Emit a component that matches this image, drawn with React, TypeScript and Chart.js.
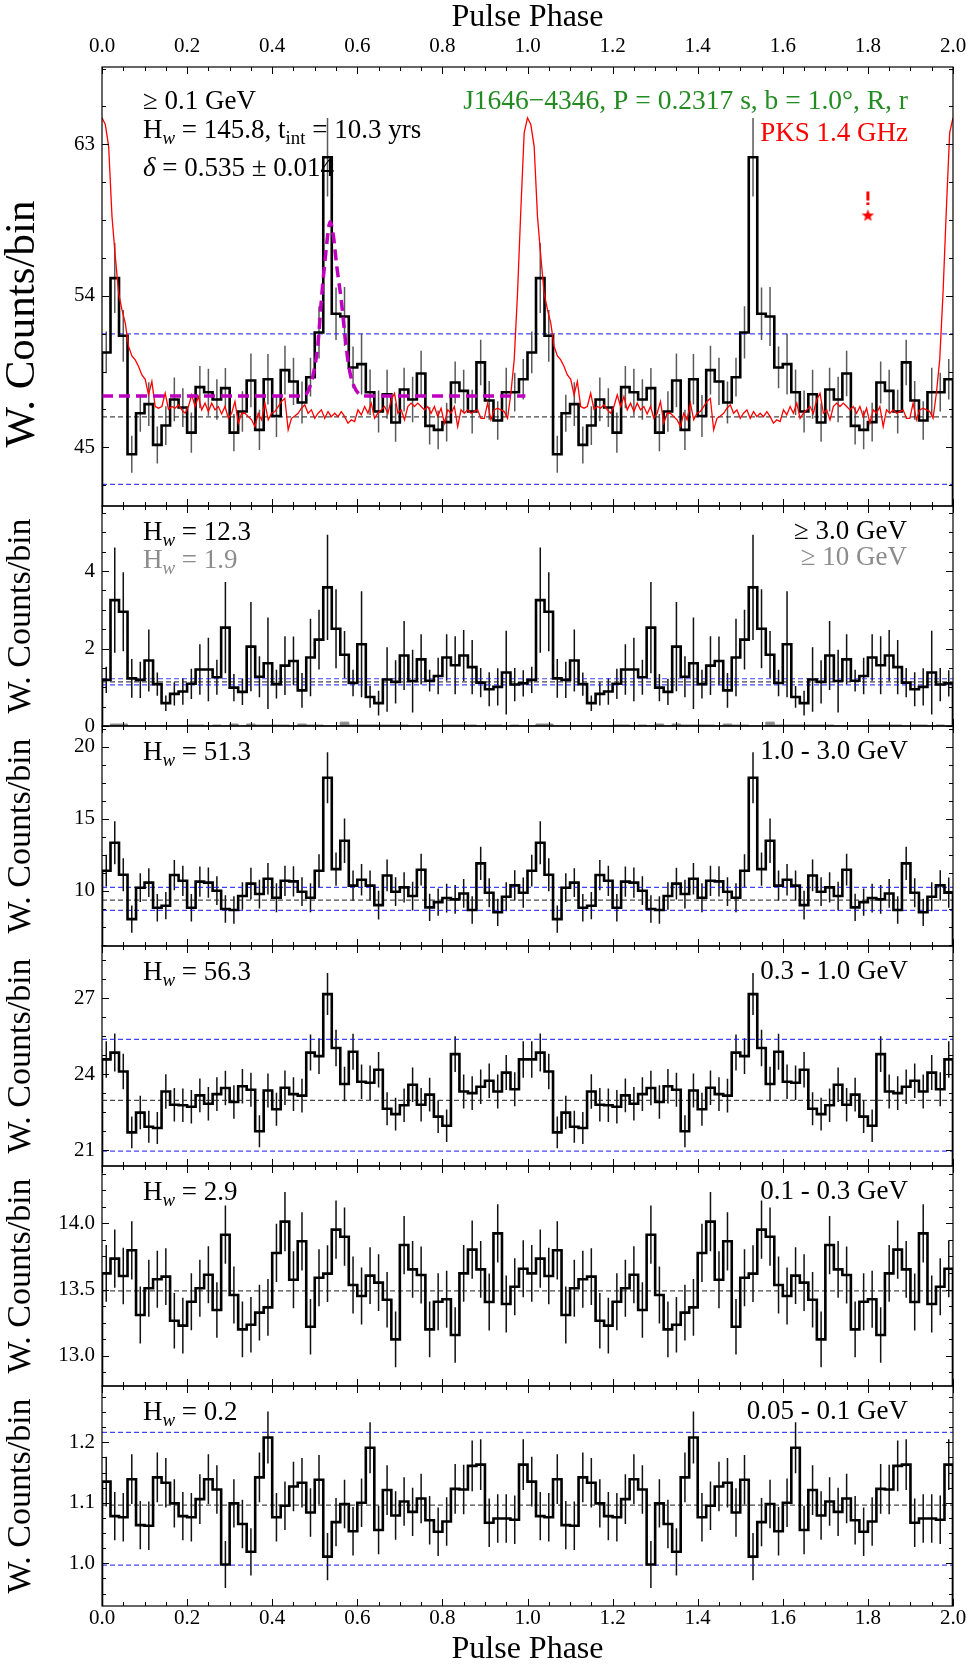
import React, { useEffect, useRef } from 'react';
import { Chart, registerables } from 'chart.js';

Chart.register(...registerables);

const FAMILY = "'Liberation Serif', 'Times New Roman', Times, serif";

// ------------------------------------------------------------------
// DATA (one rotation, 50 phase bins of width 0.02; the figure shows two rotations)
// ------------------------------------------------------------------
const X_MAJOR_TICKS = [0, 0.2, 0.4, 0.6, 0.8, 1.0, 1.2, 1.4, 1.6, 1.8, 2.0];
const X_MINOR_TICKS = [0.05, 0.1, 0.15, 0.25, 0.3, 0.35, 0.45, 0.5, 0.55, 0.65, 0.7, 0.75, 0.85, 0.9, 0.95,
  1.05, 1.1, 1.15, 1.25, 1.3, 1.35, 1.45, 1.5, 1.55, 1.65, 1.7, 1.75, 1.85, 1.9, 1.95];

// >= 0.1 GeV
const P1_COUNTS = [50.63, 55.05, 51.62, 44.58, 47.02, 47.56, 45.14, 46.29, 47.84, 47.36,
  45.87, 48.57, 48.27, 47.84, 48.51, 45.87, 47.12, 48.97, 46.03, 49.04,
  46.86, 49.58, 48.91, 47.66, 49.16, 51.82, 62.23, 52.93, 52.77, 49.74,
  49.94, 48.27, 47.12, 48.15, 46.47, 48.43, 47.84, 49.38, 46.27, 46.03,
  46.49, 48.85, 48.35, 47.12, 50.04, 47.78, 46.59, 48.27, 48.27, 49.04];
const P1_ERRORS = [1.24, 2.08, 1.54, 1.1, 1.1, 1.3, 1.1, 1.15, 1.3, 1.15,
  1.2, 1.25, 1.4, 1.2, 1.2, 1.1, 1.2, 1.6, 1.2, 1.5,
  1.25, 1.45, 1.4, 1.25, 1.15, 1.55, 2.33, 1.56, 1.75, 1.24,
  1.8, 1.35, 1.25, 1.45, 1.15, 1.3, 1.35, 1.35, 1.1, 1.15,
  1.15, 1.25, 1.25, 1.3, 1.35, 1.15, 1.15, 1.45, 1.15, 1.2];
const P1_Y_TICKS = [45, 54, 63];
const P1_Y_MINOR = [42.75, 47.25, 49.5, 51.75, 56.25, 58.5, 60.75, 65.25, 67.5];
const P1_BLUE = [51.74, 42.8];
const P1_BLACK = [46.8];

// PKS 1.4 GHz radio profile (128 phase samples per rotation)
const RADIO_PROFILE = [64.57, 64.17, 62.88, 58.72, 56.34, 54.16, 53.17, 52.37, 50.99, 50.43,
  50.19, 49.8, 49.3, 49.04, 48.11, 48.91, 47.42, 47.32, 47.42, 48.21,
  47.26, 47.42, 47.32, 47.52, 47.22, 47.02, 47.42, 48.11, 47.42, 48.01,
  47.22, 47.62, 47.12, 47.62, 47.22, 47.42, 46.98, 47.42, 46.72, 47.02,
  47.72, 46.43, 47.02, 47.02, 46.82, 46.63, 46.23, 47.02, 46.63, 47.62,
  46.63, 47.02, 47.12, 47.42, 47.72, 47.91, 46.03, 46.72, 46.86, 47.02,
  47.32, 47.52, 47.02, 47.22, 46.72, 47.02, 47.22, 46.72, 47.12, 46.82,
  47.02, 46.82, 47.12, 46.82, 46.43, 46.63, 46.53, 47.22, 46.92, 47.42,
  47.02, 47.62, 46.72, 47.02, 47.22, 47.42, 47.02, 47.82, 48.21, 47.02,
  47.22, 46.63, 47.42, 47.62, 47.42, 47.62, 47.42, 47.22, 47.42, 47.02,
  47.42, 46.82, 47.32, 46.43, 47.22, 47.02, 47.42, 46.23, 47.22, 47.02,
  47.22, 47.02, 47.12, 47.22, 46.72, 46.72, 47.62, 46.63, 47.22, 47.32,
  47.22, 47.12, 46.72, 48.21, 50.19, 54.16, 59.12, 63.68];

// fitted peak (delta = 0.535)
const FIT_PHASE = [0, 0.47, 0.478, 0.49, 0.497, 0.507, 0.517, 0.525, 0.533, 0.536, 0.543,
  0.552, 0.562, 0.572, 0.58, 0.591, 0.603, 0.62, 0.995];
const FIT_VALUE = [48.05, 48.05, 48.1, 48.7, 49.4, 51.0, 54.2, 56.3, 58.1, 58.4, 57.7,
  55.7, 53.8, 51.4, 49.8, 48.7, 48.2, 48.05, 48.05];

// red marker at phase 1.8
const MARK_PHASE = 1.8;
const MARK_STAR = 58.8;
const MARK_DASH = [60.2, 59.39]; // drawn top -> bottom

// >= 3 GeV (and >= 10 GeV in grey)
const P2_COUNTS = [1.19, 3.25, 2.95, 1.23, 1.19, 1.69, 1.08, 0.59, 0.83, 0.89,
  1.09, 1.46, 1.46, 1.26, 2.54, 0.99, 0.88, 2.05, 1.27, 1.62,
  1.08, 1.56, 1.68, 0.92, 1.77, 2.23, 3.58, 2.51, 1.84, 1.11,
  2.11, 0.75, 0.59, 1.2, 1.14, 1.82, 1.16, 1.72, 1.17, 1.29,
  1.77, 1.57, 1.82, 1.52, 1.12, 0.95, 1.01, 1.38, 1.07, 1.1];
const P2_ERRORS = [0.34, 1.36, 1.02, 0.5, 0.47, 0.8, 0.3, 0.2, 0.3, 0.34,
  0.39, 0.65, 0.82, 0.45, 1.18, 0.35, 0.34, 1.15, 0.53, 1.18,
  0.37, 0.76, 0.63, 0.45, 1.0, 0.77, 1.36, 1.02, 0.61, 0.34,
  1.37, 0.28, 0.32, 0.83, 0.56, 0.89, 0.81, 0.65, 0.28, 0.47,
  0.6, 0.75, 0.66, 0.7, 0.38, 0.44, 0.48, 1.08, 0.43, 0.34];
const P2_HIGH_COUNTS = [0, 0.05, 0.05, 0, 0, 0, 0, 0, 0, 0,
  0.025, 0.025, 0, 0.025, 0, 0.05, 0, 0.05, 0.025, 0.025,
  0.025, 0.025, 0, 0.05, 0.025, 0.025, 0, 0, 0.1, 0.025,
  0.025, 0.025, 0.025, 0.025, 0.025, 0.025, 0, 0, 0, 0,
  0.025, 0.025, 0.025, 0.025, 0, 0.025, 0.025, 0, 0.025, 0];
const P2_Y_TICKS = [0, 2, 4];
const P2_Y_MINOR = [0.5, 1, 1.5, 2.5, 3, 3.5, 4.5, 5, 5.5];
const P2_BLUE = [1.22, 1.06];
const P2_BLACK = [1.14];

// 1.0 - 3.0 GeV
const P3_COUNTS = [11.39, 13.33, 11.11, 8.03, 10.21, 10.56, 8.82, 8.96, 11.09, 10.69,
  8.82, 10.63, 10.56, 10.0, 8.73, 8.66, 9.63, 10.49, 9.77, 10.83,
  9.51, 10.69, 10.65, 9.93, 9.51, 11.39, 17.85, 11.5, 13.47, 10.35,
  10.76, 10.35, 9.0, 11.06, 9.93, 10.23, 9.63, 11.46, 8.84, 9.21,
  9.49, 9.4, 9.81, 8.66, 11.9, 9.86, 8.5, 9.58, 10.37, 9.86];
const P3_ERRORS = [1.1, 1.5, 1.15, 0.95, 1.0, 1.0, 0.95, 0.95, 1.05, 1.05,
  0.95, 1.05, 1.05, 1.0, 0.95, 0.95, 0.95, 1.1, 1.0, 1.1,
  1.0, 1.05, 1.05, 1.0, 1.0, 1.15, 1.77, 1.15, 1.55, 1.05,
  1.1, 1.05, 1.0, 1.1, 1.0, 1.05, 1.0, 1.1, 0.95, 0.95,
  1.0, 1.0, 1.0, 0.95, 1.16, 1.0, 0.95, 1.0, 1.05, 1.05];
const P3_Y_TICKS = [10, 15, 20];
const P3_Y_MINOR = [6.25, 7.5, 8.75, 11.25, 12.5, 13.75, 16.25, 17.5, 18.75, 21.25];
const P3_BLUE = [10.23, 8.63];
const P3_BLACK = [9.35];

// 0.3 - 1.0 GeV
const P4_COUNTS = [24.59, 24.86, 24.11, 21.71, 22.49, 21.93, 21.88, 23.32, 22.8, 22.78,
  22.72, 23.17, 22.84, 23.22, 23.46, 22.91, 23.53, 23.39, 21.75, 23.36,
  22.62, 23.47, 23.22, 23.16, 24.86, 24.72, 27.17, 25.04, 23.62, 24.89,
  23.71, 23.67, 24.18, 22.64, 22.43, 22.78, 23.59, 22.8, 23.2, 22.33,
  21.97, 24.8, 23.32, 23.26, 23.51, 23.75, 23.32, 24.07, 23.41, 24.59];
const P4_ERRORS = [0.72, 0.75, 0.7, 0.63, 0.66, 0.63, 0.63, 0.68, 0.66, 0.66,
  0.66, 0.67, 0.66, 0.67, 0.68, 0.66, 0.68, 0.67, 0.63, 0.67,
  0.65, 0.68, 0.67, 0.67, 0.71, 0.71, 0.83, 0.72, 0.68, 0.71,
  0.68, 0.68, 0.7, 0.65, 0.65, 0.66, 0.68, 0.66, 0.67, 0.65,
  0.64, 0.71, 0.67, 0.67, 0.68, 0.68, 0.67, 0.69, 0.67, 0.72];
const P4_Y_TICKS = [21, 24, 27];
const P4_Y_MINOR = [21.75, 22.5, 23.25, 24.75, 25.5, 26.25, 27.75, 28.5];
const P4_BLUE = [25.38, 20.97];
const P4_BLACK = [22.97];

// 0.1 - 0.3 GeV
const P5_COUNTS = [13.622, 13.733, 13.602, 13.796, 13.307, 13.509, 13.577, 13.597, 13.264, 13.227,
  13.408, 13.509, 13.612, 13.345, 13.914, 13.458, 13.199, 13.234, 13.325, 13.365,
  13.776, 14.013, 13.574, 13.864, 13.219, 13.589, 13.62, 13.952, 13.899, 13.534,
  13.451, 13.605, 13.552, 13.423, 13.123, 13.836, 13.652, 13.61, 13.199, 13.408,
  13.426, 13.156, 13.622, 13.801, 13.652, 13.406, 13.924, 13.39, 13.521, 13.657];
const P5_ERRORS = [0.214, 0.22, 0.214, 0.22, 0.215, 0.215, 0.215, 0.215, 0.21, 0.21,
  0.215, 0.215, 0.215, 0.21, 0.22, 0.215, 0.21, 0.21, 0.21, 0.215,
  0.22, 0.224, 0.215, 0.22, 0.21, 0.215, 0.215, 0.22, 0.22, 0.215,
  0.215, 0.215, 0.215, 0.21, 0.21, 0.22, 0.215, 0.215, 0.21, 0.215,
  0.215, 0.21, 0.215, 0.22, 0.215, 0.215, 0.22, 0.215, 0.215, 0.215];
const P5_Y_TICKS = [13.0, 13.5, 14.0];
const P5_Y_MINOR = [12.875, 13.125, 13.25, 13.375, 13.625, 13.75, 13.875, 14.125, 14.25, 14.375];
const P5_BLUE: number[] = [];
const P5_BLACK = [13.489];

// 0.05 - 0.1 GeV
const P6_COUNTS = [1.135, 1.078, 1.076, 1.139, 1.063, 1.062, 1.142, 1.133, 1.099, 1.078,
  1.076, 1.106, 1.139, 1.122, 0.998, 1.099, 1.065, 1.019, 1.142, 1.208,
  1.076, 1.095, 1.127, 1.133, 1.084, 1.138, 1.011, 1.068, 1.098, 1.053,
  1.1, 1.191, 1.055, 1.121, 1.079, 1.102, 1.085, 1.107, 1.071, 1.052,
  1.069, 1.123, 1.122, 1.161, 1.163, 1.067, 1.074, 1.074, 1.072, 1.163];
const P6_ERRORS = [0.041, 0.04, 0.04, 0.041, 0.04, 0.04, 0.041, 0.041, 0.04, 0.04,
  0.04, 0.041, 0.041, 0.04, 0.039, 0.04, 0.04, 0.039, 0.041, 0.043,
  0.04, 0.04, 0.041, 0.041, 0.04, 0.041, 0.039, 0.04, 0.04, 0.04,
  0.04, 0.042, 0.04, 0.041, 0.04, 0.04, 0.04, 0.041, 0.04, 0.04,
  0.04, 0.041, 0.041, 0.042, 0.042, 0.04, 0.04, 0.04, 0.04, 0.042];
const P6_Y_TICKS = [1.0, 1.1, 1.2];
const P6_Y_MINOR = [0.95, 0.975, 1.025, 1.05, 1.075, 1.125, 1.15, 1.175, 1.225, 1.25, 1.275];
const P6_BLUE = [1.2165, 0.997];
const P6_BLACK = [1.096];

// ------------------------------------------------------------------
// LAYOUT
// ------------------------------------------------------------------
const PAGE_W = 977;
const PAGE_H = 1669;
const PLOT_LEFT = 102;
const PLOT_RIGHT = 953;
const MARGIN = 16;
const Y_TITLE = 'W. Counts/bin';

type Seg = { t: string; sub?: boolean; it?: boolean };
type Label = { x: number; y: number; align: 'left' | 'right'; color: string; segs: Seg[]; size?: number };

type PanelDef = {
  top: number; bottom: number;
  ymin: number; ymax: number; yTicks: number[]; yMinor: number[]; yDec: number;
  counts: number[]; errors: number[]; errColor: string;
  blue: number[]; black: number[];
  titleSize: number; titleX: number; titleY: number; // title centre, page px
  xAxis: 'top' | 'bottom' | null;
  labels: Label[];
  radio?: boolean; high?: number[];
};

const hw = (v: string): Seg[] => [{ t: 'H' }, { t: 'w', sub: true, it: true }, { t: ' = ' + v }];
const GREY = '#8c8c8c';

const PANELS: PanelDef[] = [
  {
    top: 67, bottom: 506, ymin: 41.51, ymax: 67.59, yTicks: P1_Y_TICKS, yMinor: P1_Y_MINOR, yDec: 0,
    counts: P1_COUNTS, errors: P1_ERRORS, errColor: '#5a5a5a', blue: P1_BLUE, black: P1_BLACK,
    titleSize: 43, titleX: 22.5, titleY: 324, xAxis: 'top', radio: true,
    labels: [
      { x: 143, y: 42, align: 'left', color: '#000', segs: [{ t: '≥ 0.1 GeV' }] },
      { x: 143, y: 71, align: 'left', color: '#000', segs: [...hw('145.8, t'), { t: 'int', sub: true }, { t: ' = 10.3 yrs' }] },
      { x: 143, y: 109, align: 'left', color: '#000', segs: [{ t: 'δ', it: true }, { t: ' = 0.535 ± 0.014' }] },
      { x: 908, y: 42, align: 'right', color: '#228b22', size: 27.5, segs: [{ t: 'J1646−4346, P = 0.2317 s, b = 1.0°, R, r' }] },
      { x: 908, y: 74, align: 'right', color: '#ff0000', segs: [{ t: 'PKS 1.4 GHz' }] },
    ],
  },
  {
    top: 506, bottom: 726, ymin: 0, ymax: 5.68, yTicks: P2_Y_TICKS, yMinor: P2_Y_MINOR, yDec: 0,
    counts: P2_COUNTS, errors: P2_ERRORS, errColor: '#111', blue: P2_BLUE, black: P2_BLACK,
    titleSize: 34, titleX: 21, titleY: 616, xAxis: null, high: P2_HIGH_COUNTS,
    labels: [
      { x: 143, y: 34, align: 'left', color: '#000', segs: hw('12.3') },
      { x: 143, y: 62, align: 'left', color: GREY, segs: hw('1.9') },
      { x: 907, y: 33, align: 'right', color: '#000', segs: [{ t: '≥ 3.0 GeV' }] },
      { x: 907, y: 59, align: 'right', color: GREY, segs: [{ t: '≥ 10 GeV' }] },
    ],
  },
  {
    top: 726, bottom: 946, ymin: 6.16, ymax: 21.44, yTicks: P3_Y_TICKS, yMinor: P3_Y_MINOR, yDec: 0,
    counts: P3_COUNTS, errors: P3_ERRORS, errColor: '#111', blue: P3_BLUE, black: P3_BLACK,
    titleSize: 34, titleX: 21, titleY: 836, xAxis: null,
    labels: [
      { x: 143, y: 34, align: 'left', color: '#000', segs: hw('51.3') },
      { x: 908, y: 33, align: 'right', color: '#000', segs: [{ t: '1.0 - 3.0 GeV' }] },
    ],
  },
  {
    top: 946, bottom: 1166, ymin: 20.38, ymax: 29.07, yTicks: P4_Y_TICKS, yMinor: P4_Y_MINOR, yDec: 0,
    counts: P4_COUNTS, errors: P4_ERRORS, errColor: '#111', blue: P4_BLUE, black: P4_BLACK,
    titleSize: 34, titleX: 21, titleY: 1056, xAxis: null,
    labels: [
      { x: 143, y: 34, align: 'left', color: '#000', segs: hw('56.3') },
      { x: 908, y: 33, align: 'right', color: '#000', segs: [{ t: '0.3 - 1.0 GeV' }] },
    ],
  },
  {
    top: 1166, bottom: 1386, ymin: 12.771, ymax: 14.433, yTicks: P5_Y_TICKS, yMinor: P5_Y_MINOR, yDec: 1,
    counts: P5_COUNTS, errors: P5_ERRORS, errColor: '#111', blue: P5_BLUE, black: P5_BLACK,
    titleSize: 34, titleX: 21, titleY: 1276, xAxis: null,
    labels: [
      { x: 143, y: 34, align: 'left', color: '#000', segs: hw('2.9') },
      { x: 908, y: 33, align: 'right', color: '#000', segs: [{ t: '0.1 - 0.3 GeV' }] },
    ],
  },
  {
    top: 1386, bottom: 1606, ymin: 0.9294, ymax: 1.293, yTicks: P6_Y_TICKS, yMinor: P6_Y_MINOR, yDec: 1,
    counts: P6_COUNTS, errors: P6_ERRORS, errColor: '#111', blue: P6_BLUE, black: P6_BLACK,
    titleSize: 34, titleX: 21, titleY: 1496, xAxis: 'bottom',
    labels: [
      { x: 143, y: 34, align: 'left', color: '#000', segs: hw('0.2') },
      { x: 908, y: 33, align: 'right', color: '#000', segs: [{ t: '0.05 - 0.1 GeV' }] },
    ],
  },
];

function canvasGeom(p: PanelDef) {
  if (p.xAxis === 'top') {
    return { top: 0, height: p.bottom + MARGIN, padTop: 0, padBottom: MARGIN, axisH: p.top };
  }
  if (p.xAxis === 'bottom') {
    const top = p.top - MARGIN;
    return { top, height: PAGE_H - top, padTop: MARGIN, padBottom: 0, axisH: PAGE_H - p.bottom };
  }
  const top = p.top - MARGIN;
  return { top, height: p.bottom - p.top + 2 * MARGIN, padTop: MARGIN, padBottom: MARGIN, axisH: 0 };
}

// ------------------------------------------------------------------
// helpers building library data from the arrays above
// ------------------------------------------------------------------
function stepData(counts: number[], floor: number) {
  const n = counts.length;
  const pts: { x: number; y: number }[] = [{ x: 0, y: floor }];
  for (let r = 0; r < 2; r++) {
    for (let i = 0; i < n; i++) pts.push({ x: r + i / n, y: counts[i] });
  }
  pts.push({ x: 2, y: counts[n - 1] });
  pts.push({ x: 2, y: floor });
  return pts;
}

function radioData() {
  const n = RADIO_PROFILE.length;
  const pts: { x: number; y: number }[] = [];
  for (let r = 0; r < 2; r++) {
    for (let i = 0; i < n; i++) pts.push({ x: r + i / n, y: RADIO_PROFILE[i] });
  }
  pts.push({ x: 2, y: RADIO_PROFILE[0] });
  return pts;
}

function hline(v: number) {
  return [{ x: 0, y: v }, { x: 2, y: v }];
}

function makeStar(size: number, color: string) {
  const c = document.createElement('canvas');
  c.width = size;
  c.height = size;
  const g = c.getContext('2d')!;
  const cx = size / 2, cy = size / 2 + 0.8, R = size / 2, r = R * 0.42;
  g.beginPath();
  for (let k = 0; k < 10; k++) {
    const ang = -Math.PI / 2 + (k * Math.PI) / 5;
    const rad = k % 2 === 0 ? R : r;
    g.lineTo(cx + rad * Math.cos(ang), cy + rad * Math.sin(ang));
  }
  g.closePath();
  g.fillStyle = color;
  g.fill();
  return c;
}

function drawRich(ctx: CanvasRenderingContext2D, x: number, y: number, segs: Seg[], size: number, color: string, align: string) {
  const parts = segs.map((s) => {
    const fs = s.sub ? size * 0.7 : size;
    const font = `${s.it ? 'italic ' : ''}${fs}px ${FAMILY}`;
    ctx.font = font;
    return { t: s.t, font, w: ctx.measureText(s.t).width, dy: s.sub ? size * 0.22 : 0 };
  });
  const total = parts.reduce((a, p) => a + p.w, 0);
  let cx = align === 'right' ? x - total : x;
  ctx.fillStyle = color;
  ctx.textBaseline = 'alphabetic';
  ctx.textAlign = 'left';
  for (const p of parts) {
    ctx.font = p.font;
    ctx.fillText(p.t, cx, y + p.dy);
    cx += p.w;
  }
}

function makePlugins(p: PanelDef, canvasTop: number) {
  const errPlugin = {
    id: 'errbars',
    beforeDatasetsDraw(chart: any) {
      const { ctx, chartArea: a, scales } = chart;
      const xs = scales.x, ys = scales.y;
      const n = p.counts.length;
      ctx.save();
      ctx.beginPath();
      ctx.rect(a.left, a.top, a.right - a.left, a.bottom - a.top);
      ctx.clip();
      ctx.strokeStyle = p.errColor;
      ctx.lineWidth = 1.5;
      ctx.beginPath();
      for (let r = 0; r < 2; r++) {
        for (let i = 0; i < n; i++) {
          const px = xs.getPixelForValue(r + (i + 0.5) / n);
          ctx.moveTo(px, ys.getPixelForValue(p.counts[i] - p.errors[i]));
          ctx.lineTo(px, ys.getPixelForValue(p.counts[i] + p.errors[i]));
        }
      }
      ctx.stroke();
      ctx.restore();
    },
  };
  const framePlugin = {
    id: 'frame',
    afterDraw(chart: any) {
      const { ctx, chartArea: a, scales } = chart;
      const xs = scales.x, ys = scales.y;
      ctx.save();
      ctx.strokeStyle = '#000';
      ctx.lineWidth = 1.2;
      ctx.strokeRect(a.left, a.top, a.right - a.left, a.bottom - a.top);
      ctx.lineWidth = 1;
      ctx.beginPath();
      const xt = (v: number, len: number) => {
        const px = Math.round(xs.getPixelForValue(v)) + 0.5;
        ctx.moveTo(px, a.top); ctx.lineTo(px, a.top + len);
        ctx.moveTo(px, a.bottom); ctx.lineTo(px, a.bottom - len);
      };
      const yt = (v: number, len: number) => {
        if (v < p.ymin || v > p.ymax) return;
        const py = Math.round(ys.getPixelForValue(v)) + 0.5;
        ctx.moveTo(a.left, py); ctx.lineTo(a.left + len, py);
        ctx.moveTo(a.right, py); ctx.lineTo(a.right - len, py);
      };
      X_MAJOR_TICKS.forEach((v) => xt(v, 7));
      X_MINOR_TICKS.forEach((v) => xt(v, 4));
      p.yTicks.forEach((v) => yt(v, 7));
      p.yMinor.forEach((v) => yt(v, 4));
      ctx.stroke();
      ctx.restore();
    },
  };
  const textPlugin = {
    id: 'texts',
    afterDraw(chart: any) {
      const { ctx, chartArea: a } = chart;
      ctx.save();
      for (const l of p.labels) drawRich(ctx, l.x, a.top + l.y, l.segs, l.size || 27, l.color, l.align);
      // y-axis title
      ctx.translate(p.titleX, p.titleY - canvasTop);
      ctx.rotate(-Math.PI / 2);
      ctx.font = `${p.titleSize}px ${FAMILY}`;
      ctx.fillStyle = '#000';
      ctx.textAlign = 'center';
      ctx.textBaseline = 'middle';
      ctx.fillText(Y_TITLE, 0, 0);
      ctx.restore();
    },
  };
  return [errPlugin, framePlugin, textPlugin];
}

function buildConfig(p: PanelDef, star: HTMLCanvasElement | null): any {
  const g = canvasGeom(p);
  const datasets: any[] = [];
  const common = { pointRadius: 0, pointHoverRadius: 0, tension: 0 };

  if (p.radio) {
    datasets.push({
      ...common, data: [{ x: MARK_PHASE, y: MARK_STAR }], showLine: false,
      pointStyle: star, pointRadius: 6,
    });
    datasets.push({
      ...common, data: MARK_DASH.map((y) => ({ x: MARK_PHASE, y })),
      borderColor: '#ff0000', borderWidth: 3, borderDash: [9, 2],
    });
    datasets.push({
      ...common, data: FIT_PHASE.map((x, i) => ({ x, y: FIT_VALUE[i] })),
      borderColor: '#bf00bf', borderWidth: 3.5, borderDash: [11, 6], cubicInterpolationMode: 'monotone',
    });
    datasets.push({ ...common, data: radioData(), borderColor: '#ff0000', borderWidth: 1.3 });
  }
  datasets.push({
    ...common, data: stepData(p.counts, p.ymin), stepped: 'before',
    borderColor: '#000', borderWidth: 2.6, borderJoinStyle: 'miter',
  });
  if (p.high) {
    datasets.push({
      ...common, data: stepData(p.high, 0), stepped: 'before',
      borderColor: '#888', borderWidth: 1, fill: 'origin', backgroundColor: '#888',
    });
  }
  p.blue.forEach((v) => datasets.push({ ...common, data: hline(v), borderColor: 'rgba(20,20,255,0.8)', borderWidth: 1.2, borderDash: [5, 3] }));
  p.black.forEach((v) => datasets.push({ ...common, data: hline(v), borderColor: 'rgba(40,40,40,0.85)', borderWidth: 1.2, borderDash: [5, 3] }));

  const noGrid = { display: false, drawTicks: false, drawOnChartArea: false };
  const xScale: any = {
    type: 'linear', min: 0, max: 2,
    display: p.xAxis !== null,
    position: p.xAxis === 'bottom' ? 'bottom' : 'top',
    grid: noGrid, border: { display: false },
    afterBuildTicks: (s: any) => { s.ticks = X_MAJOR_TICKS.map((v) => ({ value: v })); },
    afterFit: (s: any) => { s.height = g.axisH; s.paddingLeft = 0; s.paddingRight = 0; s.paddingTop = 0; s.paddingBottom = 0; },
    ticks: {
      autoSkip: false, maxRotation: 0, minRotation: 0, color: '#000',
      padding: p.xAxis === 'top' ? 8 : 0,
      font: { family: FAMILY, size: 21, lineHeight: 1.2 },
      callback: (v: any) => Number(v).toFixed(1),
    },
    title: {
      display: true, text: 'Pulse Phase', color: '#000',
      font: { family: FAMILY, size: 32, lineHeight: 1 },
      padding: { top: 2, bottom: 3.5 },
    },
  };
  const yScale: any = {
    type: 'linear', min: p.ymin, max: p.ymax, position: 'left',
    grid: noGrid, border: { display: false },
    afterBuildTicks: (s: any) => { s.ticks = p.yTicks.map((v) => ({ value: v })); },
    afterFit: (s: any) => { s.width = PLOT_LEFT; s.paddingTop = 0; s.paddingBottom = 0; s.paddingLeft = 0; s.paddingRight = 0; },
    ticks: {
      color: '#000', padding: 7,
      font: { family: FAMILY, size: 21, lineHeight: 1.2 },
      callback: (v: any) => Number(v).toFixed(p.yDec),
    },
    title: { display: false },
  };

  return {
    type: 'line',
    data: { datasets },
    options: {
      animation: false,
      responsive: false,
      devicePixelRatio: 1,
      events: [],
      parsing: true,
      layout: {
        autoPadding: false,
        padding: { left: 0, right: PAGE_W - PLOT_RIGHT, top: g.padTop, bottom: g.padBottom },
      },
      plugins: { legend: { display: false }, tooltip: { enabled: false }, title: { display: false } },
      scales: { x: xScale, y: yScale },
    },
    plugins: makePlugins(p, g.top),
  };
}

function Panel({ def }: { def: PanelDef }) {
  const ref = useRef<HTMLCanvasElement>(null);
  const g = canvasGeom(def);
  useEffect(() => {
    if (!ref.current) return;
    const star = def.radio ? makeStar(13, '#ff0000') : null;
    const chart = new Chart(ref.current, buildConfig(def, star));
    return () => chart.destroy();
  }, [def]);
  return (
    <canvas
      ref={ref}
      width={PAGE_W}
      height={g.height}
      style={{ position: 'absolute', left: 0, top: g.top, width: PAGE_W, height: g.height, display: 'block' }}
    />
  );
}

export default function App() {
  useEffect(() => {
    document.body.style.margin = '0';
  }, []);
  return (
    <div style={{ position: 'absolute', left: 0, top: 0, width: PAGE_W, height: PAGE_H, background: '#fff', overflow: 'hidden' }}>
      {PANELS.map((p, i) => (
        <Panel key={i} def={p} />
      ))}
    </div>
  );
}
